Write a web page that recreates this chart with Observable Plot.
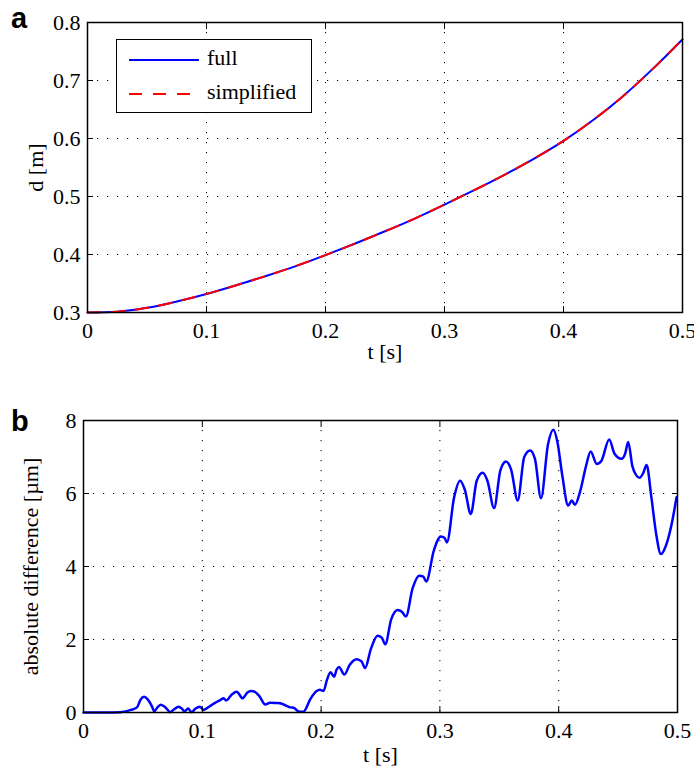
<!DOCTYPE html>
<html>
<head>
<meta charset="utf-8">
<script src="https://cdn.jsdelivr.net/npm/d3@7"></script>
<script src="https://cdn.jsdelivr.net/npm/@observablehq/plot@0.6"></script>
</head>
<body style="margin:0; padding:0; background:#fff;">
<div id="wrap" style="position:relative; width:694px; height:771px; font-family:'Liberation Serif';">
  <div style="position:absolute; left:11px; top:4px; font-family:'Liberation Sans'; font-weight:bold; font-size:29px; line-height:1;">a</div>
  <div style="position:absolute; left:11px; top:407px; font-family:'Liberation Sans'; font-weight:bold; font-size:29px; line-height:1;">b</div>
  <div id="legend" style="position:absolute; left:116px; top:39px; width:194px; height:72px; border:1.5px solid #000; background:#fff; font-family:'Liberation Serif'; font-size:22px; z-index:5;"></div>
</div>
<script>
// ---------- data ----------
const xTicks = [0, 0.1, 0.2, 0.3, 0.4, 0.5];
const yTicksA = [0.3, 0.4, 0.5, 0.6, 0.7, 0.8];
const yTicksB = [0, 2, 4, 6, 8];
const seriesNames = ["full", "simplified"];

// panel a: distance d [m] vs time t [s]
const tA = [0, 0.025, 0.05, 0.075, 0.1, 0.125, 0.15, 0.175, 0.2, 0.225, 0.25,
            0.275, 0.3, 0.325, 0.35, 0.375, 0.4, 0.425, 0.45, 0.475, 0.5];
const dFull = [0.300, 0.3015, 0.308, 0.319, 0.332, 0.347, 0.363, 0.380, 0.399, 0.419, 0.440,
               0.462, 0.486, 0.511, 0.537, 0.565, 0.596, 0.632, 0.673, 0.720, 0.771];
const dSimplified = [0.300, 0.3015, 0.308, 0.319, 0.332, 0.347, 0.363, 0.380, 0.399, 0.419, 0.440,
                     0.462, 0.486, 0.511, 0.537, 0.565, 0.596, 0.632, 0.673, 0.720, 0.771];

// panel b: absolute difference [µm] vs time t [s]
const tB = [0, 0.02, 0.031, 0.04, 0.045, 0.048, 0.051, 0.054, 0.058, 0.0595, 0.062, 0.065, 0.069,
  0.073, 0.076, 0.080, 0.083, 0.085, 0.088, 0.091, 0.094, 0.098, 0.101, 0.104, 0.110, 0.115,
  0.118, 0.120, 0.125, 0.129, 0.134, 0.138, 0.141, 0.144, 0.148, 0.153, 0.157, 0.162, 0.167,
  0.171, 0.174, 0.177, 0.181, 0.185, 0.191, 0.196, 0.199, 0.202, 0.205, 0.208, 0.211, 0.213,
  0.215, 0.2196, 0.224, 0.230, 0.234, 0.237, 0.242, 0.2476, 0.251, 0.254, 0.259, 0.2644, 0.268,
  0.2714, 0.277, 0.2826, 0.286, 0.2885, 0.295, 0.3008, 0.304, 0.3059, 0.312, 0.317, 0.321,
  0.326, 0.331, 0.336, 0.340, 0.3456, 0.351, 0.3557, 0.360, 0.3655, 0.371, 0.3759, 0.380,
  0.3851, 0.391, 0.3955, 0.399, 0.403, 0.408, 0.411, 0.4137, 0.418, 0.423, 0.4269, 0.432,
  0.436, 0.4425, 0.447, 0.453, 0.456, 0.4585, 0.462, 0.4655, 0.468, 0.471, 0.474, 0.478,
  0.482, 0.486, 0.490, 0.495, 0.4992];
const diffB = [0, 0, 0.01, 0.07, 0.14, 0.35, 0.43, 0.36, 0.14, 0.03, 0.13, 0.21, 0.14,
  0.01, 0.08, 0.16, 0.10, 0.03, 0.11, 0.01, 0.10, 0.16, 0.07, 0.12, 0.25, 0.34,
  0.39, 0.33, 0.50, 0.57, 0.39, 0.55, 0.59, 0.57, 0.45, 0.22, 0.27, 0.26, 0.24,
  0.18, 0.14, 0.13, 0.03, 0.02, 0.37, 0.58, 0.62, 0.59, 0.90, 1.10, 0.98, 1.17,
  1.25, 1.04, 1.30, 1.46, 1.40, 1.22, 1.75, 2.10, 2.05, 1.87, 2.55, 2.81, 2.76,
  2.63, 3.40, 3.75, 3.72, 3.59, 4.45, 4.82, 4.78, 4.66, 5.90, 6.35, 6.10,
  5.44, 6.35, 6.57, 6.35, 5.60, 6.65, 6.88, 6.65, 5.81, 7.00, 7.18, 6.95,
  5.87, 7.35, 7.75, 7.40, 6.50, 5.67, 5.81, 5.69, 6.05, 6.75, 7.15, 6.81,
  6.90, 7.48, 7.09, 6.95, 7.10, 7.41, 6.75, 6.49, 6.43, 6.55, 6.78, 5.90,
  4.90, 4.34, 4.55, 5.15, 5.90];

// ---------- build ----------
const dataA = tA.map((t, i) => ({t, full: dFull[i], simplified: dSimplified[i]}));
const dataB = tB.map((t, i) => ({t, v: diffB[i]}));

const gridStyle = {stroke: "#000", strokeOpacity: 1, strokeWidth: 1, strokeDasharray: "1.2,8.8"};
const fmt = d => String(d);

function frameAxes(xt, yt) {
  const blank = () => "";
  return [
    Plot.frame({stroke: "#000", strokeWidth: 1.5}),
    Plot.axisX(xt, {anchor: "bottom", tickSize: 6, dy: -6, tickFormat: blank, label: null}),
    Plot.axisX(xt, {anchor: "top", tickSize: 6, dy: 6, tickFormat: blank, label: null}),
    Plot.axisY(yt, {anchor: "left", tickSize: 6, dx: 6, tickFormat: blank, label: null}),
    Plot.axisY(yt, {anchor: "right", tickSize: 6, dx: -6, tickFormat: blank, label: null}),
    Plot.axisX(xt, {anchor: "bottom", tickSize: 0, tickPadding: 10, tickFormat: fmt, label: null, fontSize: 22}),
    Plot.axisY(yt, {anchor: "left", tickSize: 0, tickPadding: 7, tickFormat: fmt, label: null, fontSize: 22})
  ];
}

const plotA = Plot.plot({
  width: 694, height: 375,
  marginLeft: 87, marginRight: 12, marginTop: 22, marginBottom: 63,
  x: {domain: [0, 0.5]},
  y: {domain: [0.3, 0.8]},
  style: "font-family:'Liberation Serif'; font-size:22px; background:transparent; overflow:visible;",
  marks: [
    Plot.gridX(xTicks.slice(1, -1), gridStyle),
    Plot.gridY(yTicksA.slice(1, -1), gridStyle),
    Plot.line(dataA, {x: "t", y: "full", stroke: "#0000ff", strokeWidth: 2, curve: "monotone-x"}),
    Plot.line(dataA, {x: "t", y: "simplified", stroke: "#ff0000", strokeWidth: 2, strokeDasharray: "13,11", curve: "monotone-x"}),
    ...frameAxes(xTicks, yTicksA),
    Plot.text(["t [s]"], {text: d => d, frameAnchor: "bottom", textAnchor: "middle", dy: 46, fontSize: 22}),
    Plot.text(["d [m]"], {text: d => d, frameAnchor: "left", textAnchor: "middle", rotate: -90, dx: -52, fontSize: 22})
  ]
});

const plotB = Plot.plot({
  width: 694, height: 396,
  marginLeft: 83, marginRight: 17, marginTop: 45, marginBottom: 59,
  x: {domain: [0, 0.5]},
  y: {domain: [0, 8]},
  style: "font-family:'Liberation Serif'; font-size:22px; background:transparent; overflow:visible;",
  marks: [
    Plot.gridX(xTicks.slice(1, -1), gridStyle),
    Plot.gridY(yTicksB.slice(1, -1), gridStyle),
    Plot.line(dataB, {x: "t", y: "v", stroke: "#0000ff", strokeWidth: 2.5, curve: "monotone-x"}),
    ...frameAxes(xTicks, yTicksB),
    Plot.text(["t [s]"], {text: d => d, frameAnchor: "bottom", textAnchor: "middle", dy: 49, fontSize: 22}),
    Plot.text(["absolute difference [µm]"], {text: d => d, frameAnchor: "left", textAnchor: "middle", rotate: -90, dx: -53, fontSize: 22})
  ]
});

const wrap = document.getElementById("wrap");
for (const [svg, top] of [[plotA, 0], [plotB, 375]]) {
  svg.style.position = "absolute";
  svg.style.left = "0px";
  svg.style.top = top + "px";
}
wrap.insertBefore(plotB, wrap.firstChild);
wrap.insertBefore(plotA, wrap.firstChild);

// legend entries from seriesNames
const legend = document.getElementById("legend");
const legendStyles = [{stroke: "#0000ff", dash: ""}, {stroke: "#ff0000", dash: "13,11"}];
seriesNames.forEach((name, i) => {
  const top = 8 + i * 34;
  legend.insertAdjacentHTML("beforeend",
    `<svg width="72" height="12" style="position:absolute; left:12px; top:${top + 6}px;"><line x1="0" x2="70" y1="6" y2="6" stroke="${legendStyles[i].stroke}" stroke-width="2" stroke-dasharray="${legendStyles[i].dash || "none"}"/></svg>` +
    `<div style="position:absolute; left:90px; top:${top - 3}px; white-space:nowrap; font-family:'Liberation Serif'; font-size:22px;">${name}</div>`);
});
</script>
</body>
</html>
